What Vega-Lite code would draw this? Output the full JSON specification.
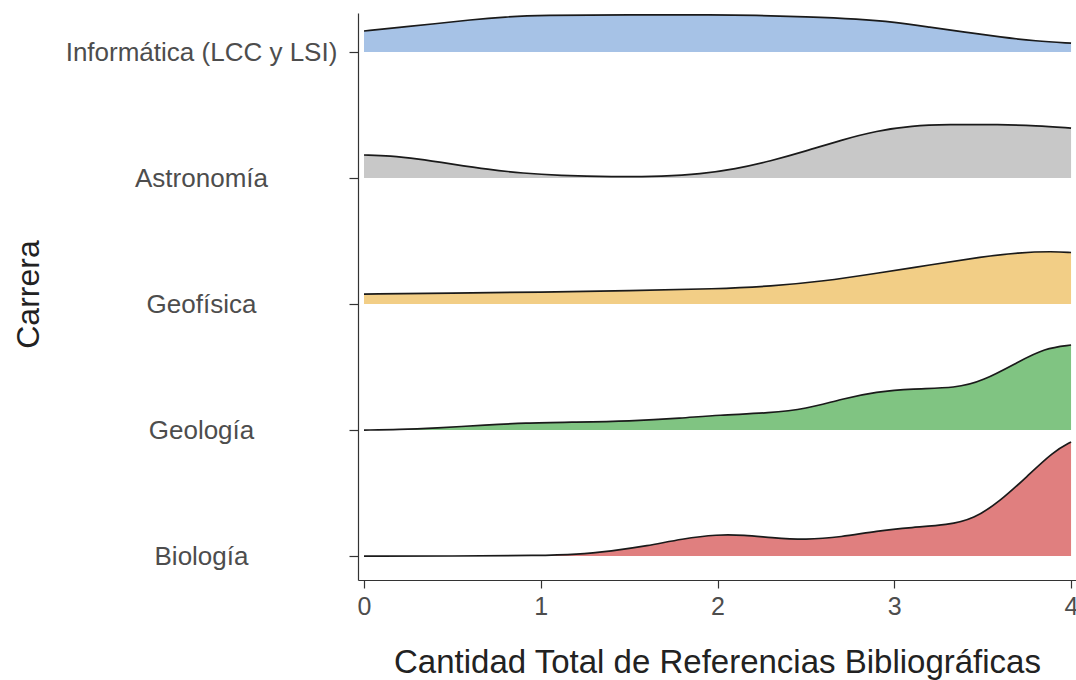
{
  "$schema": "https://vega.github.io/schema/vega-lite/v6.json",
  "width": 718,
  "height": 567,
  "autosize": "none",
  "padding": {"left": 358, "top": 13, "right": 0, "bottom": 100},
  "background": "white",
  "config": {
    "view": {"stroke": null},
    "font": "Liberation Sans",
    "axis": {"grid": false, "domainColor": "#333333", "domainWidth": 1.2, "tickColor": "#333333", "tickWidth": 1.2, "labelColor": "#4d4d4d", "titleColor": "#222222", "labelFont": "Liberation Sans", "titleFont": "Liberation Sans", "titleFontWeight": "normal"}
  },
  "data": {
    "values": [
      {"carrera": "Informática (LCC y LSI)", "x": 0.0, "d": 0.167},
      {"carrera": "Informática (LCC y LSI)", "x": 0.2, "d": 0.196},
      {"carrera": "Informática (LCC y LSI)", "x": 0.4, "d": 0.224},
      {"carrera": "Informática (LCC y LSI)", "x": 0.6, "d": 0.256},
      {"carrera": "Informática (LCC y LSI)", "x": 0.8, "d": 0.280},
      {"carrera": "Informática (LCC y LSI)", "x": 1.0, "d": 0.292},
      {"carrera": "Informática (LCC y LSI)", "x": 1.5, "d": 0.296},
      {"carrera": "Informática (LCC y LSI)", "x": 2.0, "d": 0.296},
      {"carrera": "Informática (LCC y LSI)", "x": 2.2, "d": 0.292},
      {"carrera": "Informática (LCC y LSI)", "x": 2.5, "d": 0.280},
      {"carrera": "Informática (LCC y LSI)", "x": 2.8, "d": 0.262},
      {"carrera": "Informática (LCC y LSI)", "x": 3.0, "d": 0.238},
      {"carrera": "Informática (LCC y LSI)", "x": 3.2, "d": 0.198},
      {"carrera": "Informática (LCC y LSI)", "x": 3.4, "d": 0.159},
      {"carrera": "Informática (LCC y LSI)", "x": 3.6, "d": 0.119},
      {"carrera": "Informática (LCC y LSI)", "x": 3.8, "d": 0.087},
      {"carrera": "Informática (LCC y LSI)", "x": 4.0, "d": 0.071},
      {"carrera": "Astronomía", "x": 0.0, "d": 0.183},
      {"carrera": "Astronomía", "x": 0.15, "d": 0.177},
      {"carrera": "Astronomía", "x": 0.3, "d": 0.153},
      {"carrera": "Astronomía", "x": 0.5, "d": 0.111},
      {"carrera": "Astronomía", "x": 0.7, "d": 0.069},
      {"carrera": "Astronomía", "x": 0.9, "d": 0.038},
      {"carrera": "Astronomía", "x": 1.1, "d": 0.020},
      {"carrera": "Astronomía", "x": 1.4, "d": 0.008},
      {"carrera": "Astronomía", "x": 1.7, "d": 0.014},
      {"carrera": "Astronomía", "x": 1.9, "d": 0.032},
      {"carrera": "Astronomía", "x": 2.1, "d": 0.071},
      {"carrera": "Astronomía", "x": 2.3, "d": 0.135},
      {"carrera": "Astronomía", "x": 2.5, "d": 0.214},
      {"carrera": "Astronomía", "x": 2.7, "d": 0.302},
      {"carrera": "Astronomía", "x": 2.9, "d": 0.375},
      {"carrera": "Astronomía", "x": 3.1, "d": 0.415},
      {"carrera": "Astronomía", "x": 3.3, "d": 0.425},
      {"carrera": "Astronomía", "x": 3.6, "d": 0.425},
      {"carrera": "Astronomía", "x": 3.8, "d": 0.415},
      {"carrera": "Astronomía", "x": 4.0, "d": 0.397},
      {"carrera": "Geofísica", "x": 0.0, "d": 0.079},
      {"carrera": "Geofísica", "x": 0.5, "d": 0.087},
      {"carrera": "Geofísica", "x": 1.0, "d": 0.095},
      {"carrera": "Geofísica", "x": 1.5, "d": 0.105},
      {"carrera": "Geofísica", "x": 2.0, "d": 0.121},
      {"carrera": "Geofísica", "x": 2.3, "d": 0.141},
      {"carrera": "Geofísica", "x": 2.6, "d": 0.181},
      {"carrera": "Geofísica", "x": 2.9, "d": 0.244},
      {"carrera": "Geofísica", "x": 3.2, "d": 0.310},
      {"carrera": "Geofísica", "x": 3.5, "d": 0.375},
      {"carrera": "Geofísica", "x": 3.7, "d": 0.409},
      {"carrera": "Geofísica", "x": 3.9, "d": 0.418},
      {"carrera": "Geofísica", "x": 4.0, "d": 0.409},
      {"carrera": "Geología", "x": 0.0, "d": 0.0},
      {"carrera": "Geología", "x": 0.2, "d": 0.004},
      {"carrera": "Geología", "x": 0.4, "d": 0.016},
      {"carrera": "Geología", "x": 0.7, "d": 0.040},
      {"carrera": "Geología", "x": 0.9, "d": 0.056},
      {"carrera": "Geología", "x": 1.2, "d": 0.063},
      {"carrera": "Geología", "x": 1.5, "d": 0.071},
      {"carrera": "Geología", "x": 1.8, "d": 0.095},
      {"carrera": "Geología", "x": 2.0, "d": 0.119},
      {"carrera": "Geología", "x": 2.3, "d": 0.135},
      {"carrera": "Geología", "x": 2.5, "d": 0.167},
      {"carrera": "Geología", "x": 2.7, "d": 0.246},
      {"carrera": "Geología", "x": 2.9, "d": 0.304},
      {"carrera": "Geología", "x": 3.1, "d": 0.329},
      {"carrera": "Geología", "x": 3.35, "d": 0.333},
      {"carrera": "Geología", "x": 3.5, "d": 0.389},
      {"carrera": "Geología", "x": 3.7, "d": 0.540},
      {"carrera": "Geología", "x": 3.85, "d": 0.650},
      {"carrera": "Geología", "x": 4.0, "d": 0.675},
      {"carrera": "Biología", "x": 0.0, "d": 0.0},
      {"carrera": "Biología", "x": 0.5, "d": 0.0},
      {"carrera": "Biología", "x": 1.0, "d": 0.004},
      {"carrera": "Biología", "x": 1.2, "d": 0.012},
      {"carrera": "Biología", "x": 1.4, "d": 0.040},
      {"carrera": "Biología", "x": 1.6, "d": 0.079},
      {"carrera": "Biología", "x": 1.8, "d": 0.137},
      {"carrera": "Biología", "x": 2.0, "d": 0.172},
      {"carrera": "Biología", "x": 2.15, "d": 0.166},
      {"carrera": "Biología", "x": 2.3, "d": 0.147},
      {"carrera": "Biología", "x": 2.5, "d": 0.128},
      {"carrera": "Biología", "x": 2.7, "d": 0.151},
      {"carrera": "Biología", "x": 2.9, "d": 0.200},
      {"carrera": "Biología", "x": 3.1, "d": 0.228},
      {"carrera": "Biología", "x": 3.3, "d": 0.246},
      {"carrera": "Biología", "x": 3.45, "d": 0.294},
      {"carrera": "Biología", "x": 3.6, "d": 0.437},
      {"carrera": "Biología", "x": 3.75, "d": 0.630},
      {"carrera": "Biología", "x": 3.9, "d": 0.830},
      {"carrera": "Biología", "x": 4.0, "d": 0.905}
    ]
  },
  "transform": [
    {"calculate": "indexof(['Biología','Geología','Geofísica','Astronomía','Informática (LCC y LSI)'], datum.carrera)", "as": "base"},
    {"calculate": "datum.base + datum.d", "as": "top"}
  ],
  "encoding": {
    "x": {
      "field": "x", "type": "quantitative",
      "scale": {"domain": [-0.034, 4.028], "nice": false, "zero": false},
      "axis": {"values": [0, 1, 2, 3, 4], "title": "Cantidad Total de Referencias Bibliográficas", "labelFontSize": 25, "titleFontSize": 33, "tickSize": 8, "labelPadding": 6, "titleY": 82, "titleBaseline": "middle", "labelFlush": false}
    },
    "y": {
      "field": "top", "type": "quantitative",
      "scale": {"domain": [-0.19, 4.31], "nice": false, "zero": false},
      "axis": {"values": [0, 1, 2, 3, 4], "labelExpr": "['Biología','Geología','Geofísica','Astronomía','Informática (LCC y LSI)'][datum.value]", "title": "Carrera", "labelFontSize": 26, "labelLimit": 400, "labelAlign": "center", "titleFontSize": 32, "tickSize": 9, "labelPadding": 148, "titleX": -330, "titleY": 281, "titleBaseline": "middle", "titleAlign": "center", "labelFlush": false}
    }
  },
  "layer": [
    {
      "mark": {"type": "area", "interpolate": "basis", "opacity": 1},
      "encoding": {
        "y2": {"field": "base"},
        "color": {
          "field": "carrera", "type": "nominal",
          "scale": {"domain": ["Informática (LCC y LSI)", "Astronomía", "Geofísica", "Geología", "Biología"], "range": ["#a6c2e6", "#c8c8c8", "#f2ce86", "#80c482", "#e07f7f"]},
          "legend": null
        }
      }
    },
    {
      "mark": {"type": "line", "interpolate": "basis", "color": "#1a1a1a", "strokeWidth": 1.7},
      "encoding": {
        "detail": {"field": "carrera", "type": "nominal"}
      }
    }
  ]
}
